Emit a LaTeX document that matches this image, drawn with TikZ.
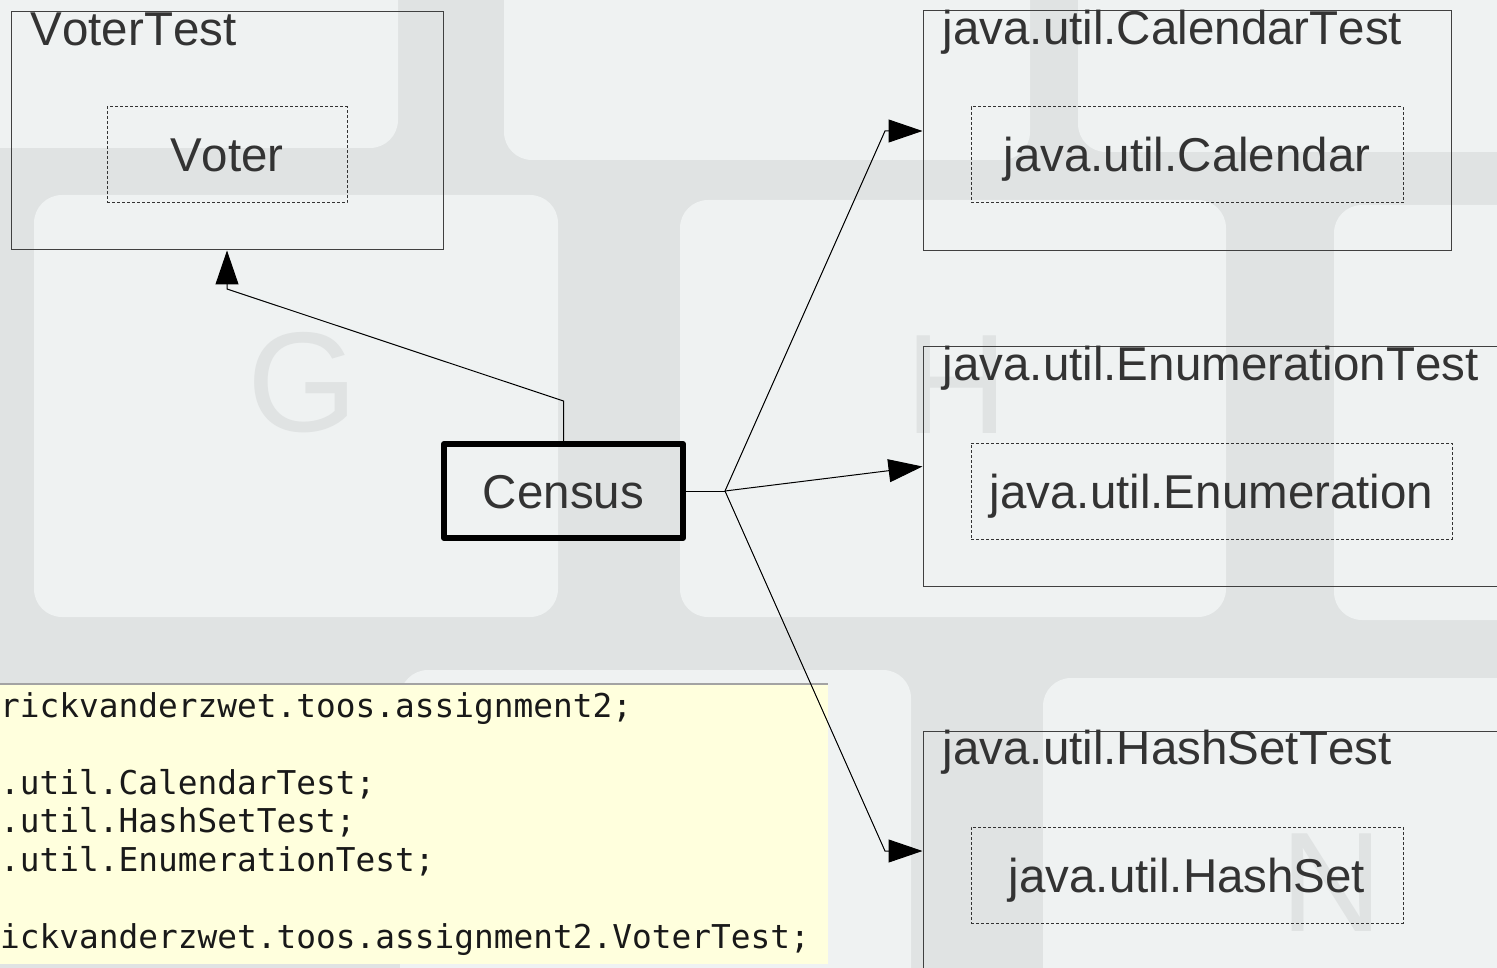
\documentclass[tikz,border=0pt]{standalone}
\usepackage{fontspec}
\setmainfont{Liberation Sans}[Kerning=Off]
\newfontfamily\codefont{DejaVu Sans Mono}
\usetikzlibrary{arrows.meta,positioning}

\definecolor{keyface}{HTML}{EFF2F2}
\definecolor{keygap}{HTML}{E0E3E3}
\definecolor{keyletter}{HTML}{E0E3E3}
\definecolor{labelgrey}{HTML}{333333}
\definecolor{codebg}{HTML}{FFFFDD}
\definecolor{coderule}{HTML}{A3A3A3}

\begin{document}
\begin{tikzpicture}[x=1pt,y=-1pt]
    % Define styles
    \tikzstyle{umlfont}=[text=labelgrey,font=\fontsize{47.5}{57}\selectfont]
    \tikzstyle{testbox}=[rectangle,draw=black!75,line width=1pt,inner sep=0pt]
    \tikzstyle{classbox}=[rectangle,umlfont,draw=black!80,line width=1pt,dash pattern=on 3pt off 2pt,inner sep=0pt,minimum width=432pt,minimum height=96pt,text height=34pt,text depth=0pt]
    \tikzstyle{mainclass}=[rectangle,umlfont,draw=black,line width=6pt,line join=round,inner sep=0pt,minimum width=239pt,minimum height=94pt,text height=34pt,text depth=0pt]
    \tikzstyle{testname}=[umlfont,anchor=base west,inner sep=0pt]
    \tikzstyle{dep}=[line width=1pt,-{Triangle[length=34pt,width=23pt]}]
    \tikzstyle{keycap}=[fill=keyface,rounded corners=28pt]
    \tikzstyle{keymark}=[text=keyletter,inner sep=0pt,font=\fontsize{142}{150}\selectfont]
    \tikzstyle{codetext}=[anchor=base west,inner sep=0pt,text=black!90,font=\codefont\fontsize{32.8}{38.5}\selectfont]

    % Keyboard background
    \clip (0,0) rectangle (1497,968);
    \fill[keygap] (0,0) rectangle (1497,968);
    \fill[keycap] (-60,-80) rectangle (398,148);
    \fill[keycap] (504,-80) rectangle (1030,160);
    \fill[keycap] (1078,-80) rectangle (1600,152);
    \fill[keycap] (34,195) rectangle (558,617);
    \fill[keycap] (680,200) rectangle (1226,617);
    \fill[keycap] (1334,205) rectangle (1600,620);
    \fill[keycap] (400,670) rectangle (911,1100);
    \fill[keycap] (1043,678) rectangle (1600,1100);
    \node[keymark] (keyG) at (303,383) {G};
    \node[keymark] (keyH) at (957,385) {H};
    \node[keymark] (keyN) at (1332,883) {N};

    % Code snippet
    \fill[codebg] (-5,684) rectangle (828,964);
    \draw[coderule,line width=2pt] (-5,684) -- (828,684);
    \foreach \row/\codeline in {0/{rickvanderzwet.toos.assignment2;},
                                2/{.util.CalendarTest;},
                                3/{.util.HashSetTest;},
                                4/{.util.EnumerationTest;},
                                6/{ickvanderzwet.toos.assignment2.VoterTest;}} {
        \node[codetext] (code\row) at (0,717+38.5*\row) {\codeline};
    }

    % Test boxes
    \node[testbox,minimum width=432pt,minimum height=238pt] (votertest) at (227,131) {};
    \node[testbox,minimum width=528pt,minimum height=240pt] (calendartest) at (1187,131) {};
    \node[testbox,minimum width=607pt,minimum height=239pt] (enumtest) at (1226.5,466.5) {};
    \node[testbox,minimum width=607pt,minimum height=240pt] (hashsettest) at (1226.5,851) {};
    \node[testname] (votertitle) at ([shift={(20,34)}]votertest.north west) {VoterTest};
    \node[testname] (calendartitle) at ([shift={(20,34)}]calendartest.north west) {java.util.CalendarTest};
    \node[testname] (enumtitle) at ([shift={(20,34)}]enumtest.north west) {java.util.EnumerationTest};
    \node[testname] (hashsettitle) at ([shift={(20,34)}]hashsettest.north west) {java.util.HashSetTest};

    % Classes under test
    \node[classbox,minimum width=240pt] (voter) at (227,155) {Voter};
    \node[classbox] (calendar) at (1187,155) {java.util.Calendar};
    \node[classbox,minimum width=481pt] (enumeration) at (1211.5,491) {java.util.Enumeration};
    \node[classbox] (hashset) at (1187,875) {java.util.HashSet};

    % Main class
    \node[mainclass] (census) at (563.5,491) {Census};

    % Dependencies
    \coordinate (fork) at (725,491);
    \coordinate (censusbend) at (563.5,401);
    \coordinate (voterbend) at (227,289);
    \coordinate (calendarbend) at (885,131);
    \coordinate (hashsetbend) at (885,851);
    \draw[dep] (census.north) -- (censusbend) -- (voterbend) -- (votertest.south);
    \draw[line width=1pt] (census.east) -- (fork);
    \draw[dep] (fork) -- (calendarbend) -- (calendartest.west);
    \draw[dep] (fork) -- (enumtest.west);
    \draw[dep] (fork) -- (hashsetbend) -- (hashsettest.west);
\end{tikzpicture}
\end{document}
